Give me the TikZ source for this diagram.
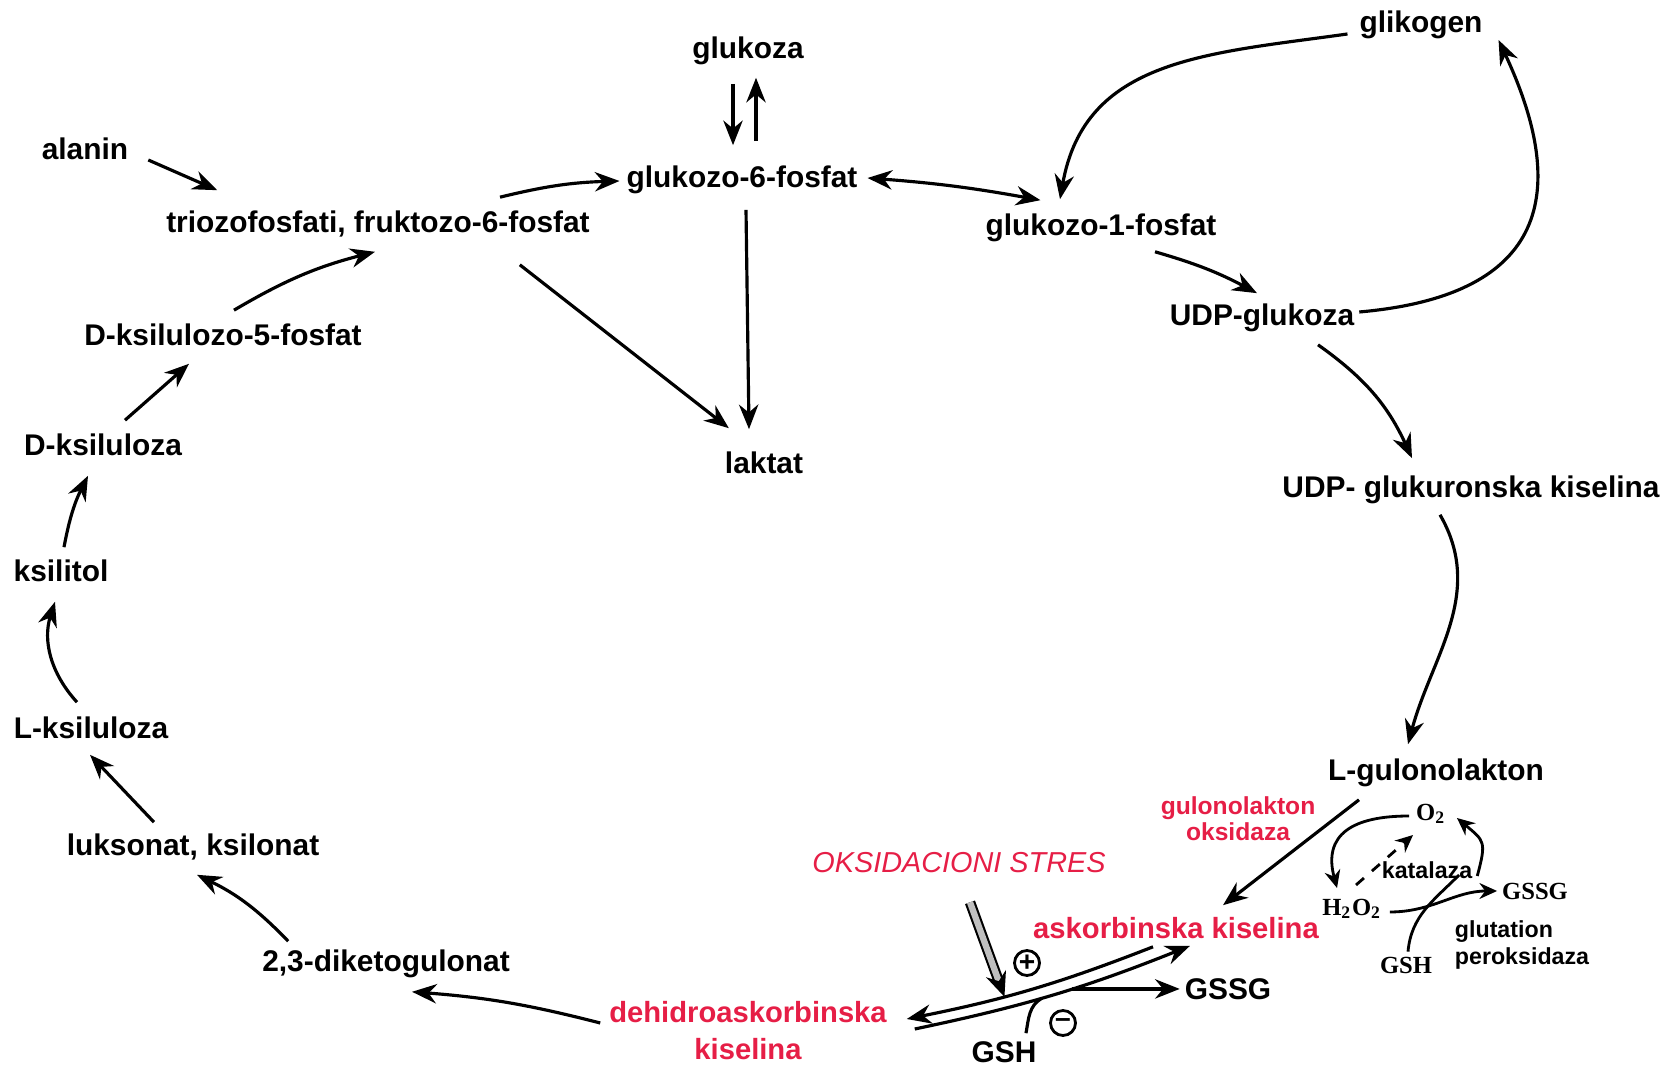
\documentclass[tikz,border=0pt]{standalone}
\usepackage{fontspec}
\setmainfont{Liberation Sans}
\newfontfamily\timesfont{Liberation Serif}
\usetikzlibrary{arrows.meta, calc, positioning}
\definecolor{enzred}{RGB}{230,30,70}
\tikzset{
    ->, % every connector gets a head
    >={Stealth[length=7pt, width=5.5pt]}, % filled heads as in the scan
    met/.style={font=\fontsize{8.5}{10}\selectfont\bfseries, inner sep=1pt, text height=0.75em, text depth=0.2em}, % metabolites
    enz/.style={text=enzred, align=center, inner sep=1pt, font=\fontsize{7}{7.3}\selectfont\bfseries}, % enzyme name
    acid/.style={text=enzred, align=center, inner sep=1pt, font=\fontsize{8.3}{10.5}\selectfont\bfseries}, % ascorbate forms
    stresslbl/.style={text=enzred, inner sep=1pt, font=\fontsize{8.2}{10}\selectfont\itshape},
    small/.style={inner sep=1pt, font=\fontsize{6.6}{7.6}\selectfont\bfseries},
    ser/.style={inner sep=1pt, font=\fontsize{7}{8}\timesfont\bfseries},
    sign/.style={circle, draw, line width=0.8pt, minimum size=0.25cm, inner sep=0pt, font=\fontsize{8}{8}\selectfont\bfseries},
    thin/.style={line width=0.8pt, >={Stealth[length=5pt, width=4.5pt]}},
    stress/.style={draw=black, line width=0.6pt, double=gray!50, double distance=1.8pt, -{Stealth[length=7pt, width=6pt]}},
}
\begin{document}
\begin{tikzpicture}[x=0.01cm, y=-0.01cm, line width=0.9pt]
    \useasboundingbox (0,0) rectangle (1667,1068);

    % glycolysis / glycogen part
    \node[met] (glc) at (748,49) {glukoza};
    \node[met] (g6p) at (742,178) {glukozo-6-fosfat};
    \node[met] (glikogen) at (1421,23) {glikogen};
    \node[met] (ala) at (85,150) {alanin};
    \node[met] (trio) at (378,223) {triozofosfati, fruktozo-6-fosfat};
    \node[met] (g1p) at (1101,226) {glukozo-1-fosfat};
    \node[met] (udpglc) at (1262,316) {UDP-glukoza};
    \node[met] (lakt) at (764,464) {laktat};
    \node[met] (udpgla) at (1471,488) {UDP- glukuronska kiselina};
    \node[met] (lgul) at (1436,771) {L-gulonolakton};

    % pentose side
    \node[met] (xu5p) at (223,336) {D-ksilulozo-5-fosfat};
    \node[met] (dxul) at (103,446) {D-ksiluloza};
    \node[met] (xylitol) at (61,572) {ksilitol};
    \node[met] (lxul) at (91,729) {L-ksiluloza};
    \node[met] (lyx) at (193,846) {luksonat, ksilonat};
    \node[met] (dkg) at (386,962) {2,3-diketogulonat};

    % ascorbate and redox
    \node[enz] (gulox) at (1238,819) {gulonolakton\\oksidaza};
    \node[stresslbl] (stres) at (959,863) {OKSIDACIONI STRES};
    \node[acid] (asc) at (1176,928) {askorbinska kiselina};
    \node[acid] (dha) at (748,1031) {dehidroaskorbinska\\kiselina};
    \node[met] (gssg1) at (1228,990) {GSSG};
    \node[met] (gsh1) at (1004,1053) {GSH};
    \node[sign] (plus) at (1027,963) {+};
    \node[sign] (minus) at (1063,1023) {\textendash};
    \node[ser] (o2) at (1431,814) {O\textsubscript{2}};
    \node[small] (kat) at (1427,870) {katalaza};
    \node[ser] (gssg2) at (1535,891) {GSSG};
    \node[ser] (h2o2) at (1352,909) {H\textsubscript{2}O\textsubscript{2}};
    \node[small, align=left] (gpx) at (1522,945) {glutation\\peroksidaza};
    \node[ser] (gsh2) at (1406,965) {GSH};

    \draw ($(glc.south)+(-15,13)$) -- ($(g6p.north)+(-9,-11)$);
    \draw ($(g6p.north)+(14,-15)$) -- ($(glc.south)+(8,7)$);
    \draw ($(ala.east)+(15,10)$) -- ($(trio.north west)+(56,-11)$);
    \draw ($(trio.north)+(122,-4)$) to[bend left=6] ($(g6p.west)+(-2,3)$);
    \draw[<->] ($(g6p.east)+(5,0)$) to[bend left=3] ($(g1p.north west)+(60,-4)$);
    \draw ($(g6p.south)+(4,10)$) -- ($(lakt.north)+(-15,-13)$);
    \draw ($(trio.south east)+(-75,20)$) -- ($(lakt.north west)+(9,-14)$);
    \draw ($(glikogen.west)+(-7,11)$) to[out=188, in=80, looseness=1.1] ($(g1p.north)+(-41,-5)$);
    \draw ($(g1p.south)+(54,4)$) to[bend left=6] ($(udpglc.north)+(-5,-1)$);
    \draw ($(udpglc.east)+(0,-4)$) to[out=5, in=-65, looseness=1.5] ($(glikogen.east)+(11,17)$);
    \draw ($(udpglc.south)+(56,7)$) to[bend left=15] ($(udpgla.north)+(-59,-8)$);
    \draw ($(udpgla.south)+(-31,5)$) to[out=-60, in=75] ($(lgul.north)+(-28,-5)$);
    \draw ($(lgul.south)+(-77,7)$) -- ($(asc.north)+(47,-7)$);

    % catalase / peroxidase corner
    \draw[thin] ($(o2.west)+(-2,2)$) to[out=180, in=105, looseness=1.4] ($(h2o2.north)+(-15,-6)$);
    \draw[thin, dashed] ($(h2o2.north)+(4,-9)$) -- ($(o2.south west)+(2,6)$);
    \draw[thin] ($(kat.east)+(0,6)$) to[out=75, in=-40, looseness=1.5] ($(o2.east)+(6,4)$);
    \draw[thin] ($(h2o2.east)+(3,3)$) to[out=0, in=180] (gssg2.west);
    \draw[thin, -] ($(gsh2.north)+(2,0)$) to[out=85, in=225] ($(gssg2.west)+(-38,-16)$);

    % ascorbate <-> dehydroascorbate
    \draw ($(asc.south)+(-23,3)$) to[bend left=5] coordinate[pos=0.62] (hit) ($(dha.east)+(15,-12)$);
    \draw ($(dha.east)+(23,-2)$) to[bend right=5] coordinate[pos=0.45] (gj) coordinate[pos=0.57] (br) ($(asc.south)+(14,2)$);
    \draw (br) -- (br -| gssg1.west);
    \draw[-] ($(gsh1.north)+(22,2)$) to[out=80, in=210] (gj);
    \draw[stress] ($(stres.south)+(11,24)$) -- (hit);

    % back to the pentoses
    \draw ($(dha.west)+(-4,-8)$) to[bend right=5] ($(dkg.south)+(26,8)$);
    \draw ($(dkg.north west)+(31,1)$) to[bend right=10] ($(lyx.south)+(4,7)$);
    \draw ($(lyx.north)+(-39,-2)$) -- ($(lxul.south)+(-1,4)$);
    \draw ($(lxul.north)+(-14,-5)$) to[bend left=30] ($(xylitol.south)+(-6,8)$);
    \draw ($(xylitol.north)+(3,-3)$) to[bend left=8] ($(dxul.south)+(-15,8)$);
    \draw ($(dxul.north)+(22,-4)$) -- ($(xu5p.south)+(-34,6)$);
    \draw ($(xu5p.north)+(11,-4)$) to[bend left=8] ($(trio.south)+(-3,7)$);
\end{tikzpicture}
\end{document}
